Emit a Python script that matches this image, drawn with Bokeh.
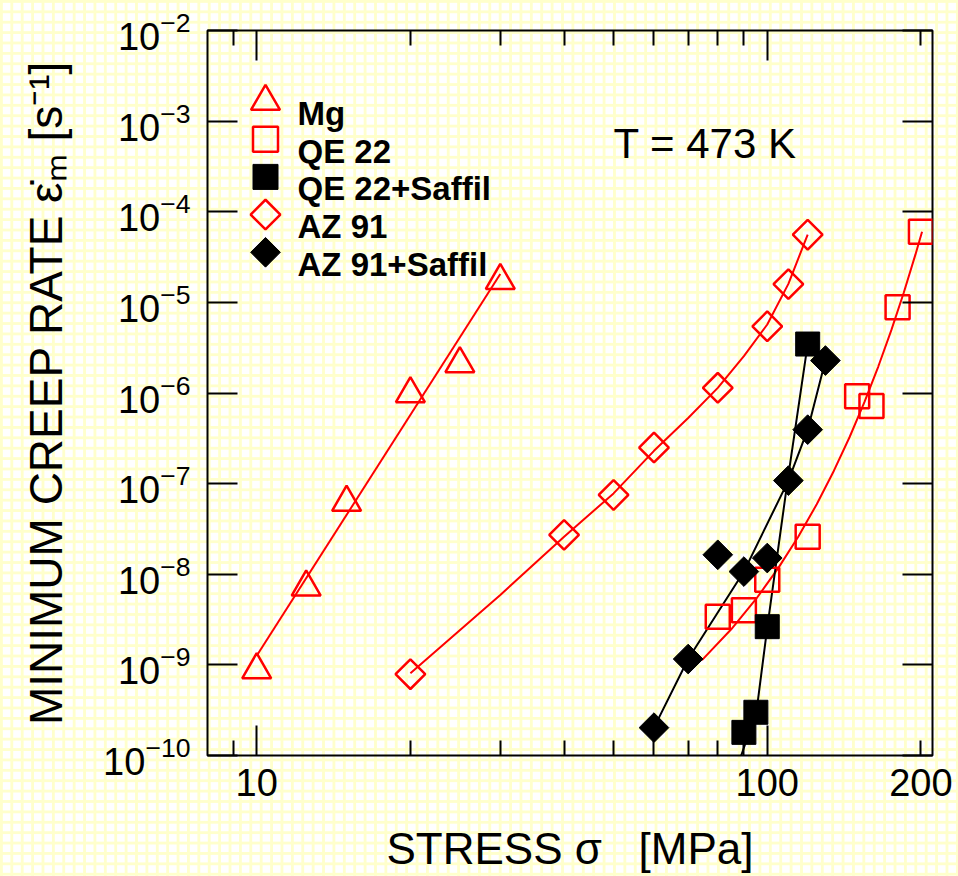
import math
from bokeh.plotting import figure
from bokeh.models import (Label, LogAxis, FixedTicker, CustomJSTickFormatter,
                          BasicTickFormatter)
from bokeh.embed import file_html
from bokeh.resources import INLINE

# ---------------- data ----------------
mg_stress = [10, 12.5, 15, 20, 25, 30]
mg_rate = [8.8e-10, 7.2e-9, 6.2e-8, 9.8e-7, 2.1e-6, 1.74e-5]
mg_fit_stress = [10, 30]
mg_fit_rate = [1.26e-9, 2.06e-5]

qe22_stress = [80, 90, 100, 120, 150, 160, 180, 200]
qe22_rate = [3.4e-9, 4.0e-9, 8.7e-9, 2.6e-8, 9.2e-7, 7.2e-7, 8.85e-6, 6.0e-5]
qe22_fit_stress = [74.5, 85, 95, 105, 115, 125, 135, 145, 155, 165, 175, 185, 195, 201]
qe22_fit_rate = [1.13e-9, 2.47e-9, 5.3e-9, 1.16e-8, 2.59e-8, 5.92e-8, 1.38e-7,
                 3.27e-7, 7.93e-7, 1.96e-6, 4.94e-6, 1.27e-5, 3.34e-5, 6.03e-5]

qes_stress = [90, 95, 100, 120]
qes_rate = [1.8e-10, 3.0e-10, 2.64e-9, 3.47e-6]
qes_fit_stress = [88.9, 95.2, 100, 109.4, 120]
qes_fit_rate = [1.0e-10, 2.97e-10, 2.58e-9, 1.0e-7, 3.47e-6]

az91_stress = [20, 40, 50, 60, 80, 100, 110, 120]
az91_rate = [7.9e-10, 2.72e-8, 7.5e-8, 2.5e-7, 1.14e-6, 5.45e-6, 1.59e-5, 5.58e-5]
az91_fit_stress = [20, 30, 40, 50, 60, 70, 80, 90, 100, 110, 120]
az91_fit_rate = [8.1e-10, 5.9e-9, 2.6e-8, 7.8e-8, 2.3e-7, 5.3e-7, 1.14e-6,
                 2.55e-6, 5.7e-6, 1.6e-5, 5.6e-5]

azs_stress = [60, 70, 80, 90, 100, 110, 120, 130]
azs_rate = [2.03e-10, 1.16e-9, 1.64e-8, 1.07e-8, 1.51e-8, 1.08e-7, 3.94e-7, 2.28e-6]
azs_fit_stress = [60, 70, 90, 110, 120, 130]
azs_fit_rate = [2.03e-10, 1.16e-9, 1.07e-8, 1.08e-7, 3.94e-7, 2.28e-6]

legend_names = ["Mg", "QE 22", "QE 22+Saffil", "AZ 91", "AZ 91+Saffil"]

x_major_ticks = [10, 100]
x_minor_ticks = [9, 20, 30, 40, 50, 60, 70, 80, 90, 200]
x_label_ticks = [10, 100, 200]
x_tick_labels = ["10", "100", "200"]
y_major_ticks = [1e-10, 1e-9, 1e-8, 1e-7, 1e-6, 1e-5, 1e-4, 1e-3, 1e-2]

NB = "\u00a0"
x_title = "STRESS" + NB + "σ" + NB * 3 + "[MPa]"
y_title = "MINIMUM CREEP RATE" + NB + "ε̇ₘ" + NB + "[s⁻¹]"

# ---------------- layout ----------------
X0, X1 = 8.01, 210.7
Y0, Y1 = 1e-10, 1e-2
FW, FH = 725, 725
BL, BT = 207, 30
BR, BB = 958 - BL - FW, 876 - BT - FH

lx0, lx1 = math.log10(X0), math.log10(X1)
ly0, ly1 = math.log10(Y0), math.log10(Y1)


def sx2x(sx):
    # canvas x (px) -> data x  (used only to place the legend / note)
    return 10 ** (lx0 + (sx - BL) / FW * (lx1 - lx0))


def sy2y(sy):
    # canvas y (px) -> data y
    return 10 ** (ly1 - (sy - BT) / FH * (ly1 - ly0))


FONT = "Liberation Sans"
RED = "#ff0000"
PAPER = "#ffffe6"

p = figure(x_axis_type="log", y_axis_type="log",
           x_range=(X0, X1), y_range=(Y0, Y1),
           frame_width=FW, frame_height=FH,
           min_border_left=BL, min_border_right=BR,
           min_border_top=BT, min_border_bottom=BB,
           output_backend="svg", toolbar_location=None)

p.xgrid.visible = False
p.ygrid.visible = False
p.outline_line_color = "black"
p.outline_line_width = 2

# graph-paper background over the whole chart (CSS on the plot element,
# canvas fills made transparent so that it shows through)
try:
    p.styles = {
        "background-color": "#ffffff",
        "background-image": ("linear-gradient(to bottom, #ffffcc 3px, transparent 3px), "
                             "linear-gradient(to right, #ffffcc 3px, transparent 3px)"),
        "background-size": "10.4px 10.4px",
    }
    p.background_fill_alpha = 0
    p.border_fill_alpha = 0
except Exception:
    p.background_fill_color = PAPER
    p.border_fill_color = PAPER

xticker = FixedTicker(ticks=x_major_ticks, minor_ticks=x_minor_ticks)
yticker = FixedTicker(ticks=y_major_ticks, minor_ticks=[])


def style_ticks(ax, minor=True, blank=True):
    if blank:
        ax.formatter = CustomJSTickFormatter(code="return ''")
        ax.major_label_text_font_size = "2px"
        ax.major_label_standoff = 0
    ax.axis_line_color = None
    ax.major_tick_in = 30
    ax.major_tick_out = 0
    ax.minor_tick_in = 15
    ax.minor_tick_out = 0
    ax.major_tick_line_color = "black"
    ax.major_tick_line_width = 2
    ax.minor_tick_line_color = "black" if minor else None
    ax.minor_tick_line_width = 2


# bottom: tick marks (next to the frame)
xax = p.xaxis[0]
xax.ticker = xticker
style_ticks(xax)

# bottom: tick labels and title (second axis, no tick marks)
xlab = LogAxis(ticker=FixedTicker(ticks=x_label_ticks, minor_ticks=[]),
               formatter=BasicTickFormatter())
xlab.major_label_overrides = {float(v): s for v, s in zip(x_label_ticks, x_tick_labels)}
xlab.axis_line_color = None
xlab.major_tick_line_color = None
xlab.minor_tick_line_color = None
xlab.major_tick_in = 0
xlab.major_tick_out = 0
xlab.minor_tick_in = 0
xlab.minor_tick_out = 0
xlab.major_label_text_font = FONT
xlab.major_label_text_font_size = "38px"
xlab.major_label_text_color = "black"
xlab.major_label_standoff = 13
xlab.axis_label = x_title
xlab.axis_label_text_font = FONT
xlab.axis_label_text_font_size = "44px"
xlab.axis_label_text_font_style = "normal"
xlab.axis_label_text_color = "black"
xlab.axis_label_standoff = 25
p.add_layout(xlab, "below")

# left: ticks + 10^n labels + title
yax = p.yaxis[0]
yax.ticker = yticker
style_ticks(yax, minor=False, blank=False)
yax.major_label_text_font = FONT
yax.major_label_text_font_size = "38px"
yax.major_label_text_color = "black"
yax.major_label_standoff = 17
yax.axis_label = y_title
yax.axis_label_text_font = FONT
yax.axis_label_text_font_size = "46px"
yax.axis_label_text_font_style = "normal"
yax.axis_label_text_color = "black"
yax.axis_label_standoff = 28

# mirrored ticks on top and right
top_ax = LogAxis(ticker=xticker)
style_ticks(top_ax)
p.add_layout(top_ax, "above")
right_ax = LogAxis(ticker=yticker)
style_ticks(right_ax, minor=False)
p.add_layout(right_ax, "right")

# ---------------- fitted lines ----------------
p.line(mg_fit_stress, mg_fit_rate, line_color=RED, line_width=2)
p.line(qe22_fit_stress, qe22_fit_rate, line_color=RED, line_width=2)
p.line(az91_fit_stress, az91_fit_rate, line_color=RED, line_width=2)
p.line(qes_fit_stress, qes_fit_rate, line_color="black", line_width=2)
p.line(azs_fit_stress, azs_fit_rate, line_color="black", line_width=2)

# ---------------- markers ----------------
TRI, SQ, DIA = 29, 24, 21
p.scatter(mg_stress, mg_rate, marker="triangle", size=TRI,
          fill_color=None, line_color=RED, line_width=2.5)
p.scatter(qe22_stress, qe22_rate, marker="square", size=SQ,
          fill_color=None, line_color=RED, line_width=2.5)
p.scatter(az91_stress, az91_rate, marker="square", angle=math.pi / 4, size=DIA,
          fill_color=None, line_color=RED, line_width=2.5)
p.scatter(qes_stress, qes_rate, marker="square", size=SQ,
          fill_color="black", line_color="black", line_width=1)
p.scatter(azs_stress, azs_rate, marker="square", angle=math.pi / 4, size=DIA,
          fill_color="black", line_color="black", line_width=1)

# ---------------- legend (drawn by hand, inside the frame) ----------------
leg_styles = [
    dict(marker="triangle", size=TRI, fill_color=None, line_color=RED, line_width=2.5, angle=0),
    dict(marker="square", size=SQ + 1, fill_color=None, line_color=RED, line_width=2.5, angle=0),
    dict(marker="square", size=SQ + 1, fill_color="black", line_color="black", line_width=1, angle=0),
    dict(marker="square", size=DIA, fill_color=None, line_color=RED, line_width=2.5, angle=math.pi / 4),
    dict(marker="square", size=DIA, fill_color="black", line_color="black", line_width=1, angle=math.pi / 4),
]
leg_base0, leg_step = 113, 37.7
for i, (name, st) in enumerate(zip(legend_names, leg_styles)):
    base = leg_base0 + i * leg_step
    p.scatter([sx2x(265)], [sy2y(base - 12)], **st)
    p.add_layout(Label(x=sx2x(297), y=sy2y(base), text=name,
                       text_font=FONT, text_font_size="33px", text_font_style="bold",
                       text_align="left", text_baseline="alphabetic", text_color="black"))

p.add_layout(Label(x=sx2x(613), y=sy2y(143), text="T = 473 K",
                   text_font=FONT, text_font_size="42px",
                   text_align="left", text_baseline="alphabetic", text_color="black"))

open("out.html", "w").write(file_html(p, INLINE))
